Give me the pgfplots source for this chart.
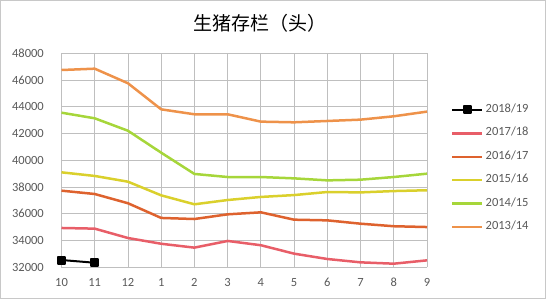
\documentclass[border=0pt]{standalone}
\usepackage{pgfplots}
\pgfplotsset{compat=1.18}
\usepackage{fontspec}
\setmainfont{Carlito}
\newfontfamily\cjk{Noto Sans CJK SC}
\definecolor{c1314}{RGB}{238,146,74}
\definecolor{c1415}{RGB}{166,214,58}
\definecolor{c1516}{RGB}{218,208,44}
\definecolor{c1617}{RGB}{222,98,46}
\definecolor{c1718}{RGB}{232,94,104}
\definecolor{tick}{RGB}{89,89,89}
\definecolor{grid}{RGB}{217,217,217}
\definecolor{frame}{RGB}{200,200,200}
\begin{document}
\begin{tikzpicture}
\useasboundingbox (0,0) rectangle (550bp,300bp);
\draw[frame, line width=1bp] (0.5bp,1.5bp) rectangle (545.5bp,299.5bp);
\node[font=\cjk\fontsize{19bp}{22bp}\selectfont, anchor=center] at (260bp,276.5bp) {生猪存栏（头）};
\begin{axis}[
  at={(61.5bp,32.7bp)}, anchor=south west,
  scale only axis, width=365.5bp, height=214bp,
  xmin=0, xmax=11, ymin=32000, ymax=48000,
  xtick={0,...,11}, xticklabels={10,11,12,1,2,3,4,5,6,7,8,9},
  ytick={32000,34000,...,48000},
  scaled y ticks=false,
  yticklabel={\pgfmathprintnumber[fixed, set thousands separator={}, assume math mode=true]{\tick}},
  ymajorgrids, grid style={grid, line width=0.8bp},
  axis line style={draw=none},
  major tick length=0pt,
  tick label style={font=\fontsize{12.5bp}{14bp}\selectfont, text=tick},
  /pgf/number format/assume math mode=true,
  /pgf/number format/set thousands separator={},
  yticklabel style={inner sep=0pt, anchor=east, xshift=-17.5bp},
  xticklabel style={inner sep=0pt, anchor=base, yshift=-19bp},
  reverse legend,
  legend cell align=left,
  legend style={at={(1.0657,0.4617)}, anchor=west, draw=none, fill=none,
    inner sep=0pt, row sep=10.4bp,
    font=\fontsize{12.5bp}{14bp}\selectfont, text=tick,
    nodes={text height=7bp, text depth=2bp, inner sep=2bp}},
  legend image code/.code={\draw[mark repeat=2, mark phase=2, #1] plot coordinates {(0bp,0bp) (15bp,0bp) (30bp,0bp)};},
  every axis plot/.append style={line width=2.5bp, line join=round},
]
\addplot[c1314, no marks] coordinates {(0,46750) (1,46850) (2,45760) (3,43810) (4,43440) (5,43440) (6,42890) (7,42840) (8,42940) (9,43040) (10,43290) (11,43640)};
\addlegendentry{2013/14}
\addplot[c1415, no marks] coordinates {(0,43560) (1,43140) (2,42210) (3,40570) (4,38980) (5,38750) (6,38750) (7,38650) (8,38500) (9,38550) (10,38750) (11,39000)};
\addlegendentry{2014/15}
\addplot[c1516, no marks] coordinates {(0,39100) (1,38830) (2,38400) (3,37380) (4,36710) (5,37030) (6,37260) (7,37400) (8,37630) (9,37600) (10,37700) (11,37760)};
\addlegendentry{2015/16}
\addplot[c1617, no marks] coordinates {(0,37730) (1,37480) (2,36790) (3,35690) (4,35610) (5,35960) (6,36110) (7,35560) (8,35510) (9,35260) (10,35070) (11,35010)};
\addlegendentry{2016/17}
\addplot[c1718, no marks] coordinates {(0,34940) (1,34890) (2,34190) (3,33760) (4,33470) (5,33970) (6,33650) (7,33020) (8,32620) (9,32370) (10,32270) (11,32520)};
\addlegendentry{2017/18}
\addplot[black, line width=2bp, mark=square*, mark size=3.5bp, mark options={solid}] coordinates {(0,32545) (1,32340)};
\addlegendentry{2018/19}
\end{axis}
\end{tikzpicture}
\end{document}
